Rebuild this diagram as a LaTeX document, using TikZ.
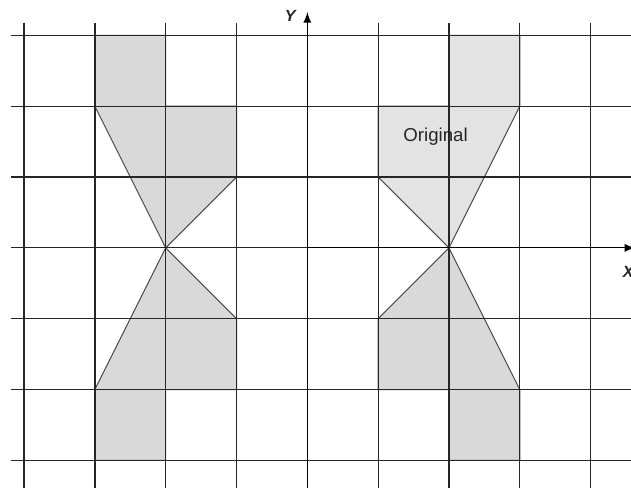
\documentclass[tikz,border=0pt]{standalone}
\usepackage{fontspec}
\setmainfont{Liberation Sans}
\usetikzlibrary{arrows, positioning}

\begin{document}
\begin{tikzpicture}
\tikzstyle{gridline} = [line width=0.5pt, draw=black!85]
\tikzstyle{original} = [fill=black!11, draw=black!70, line width=0.4pt]
\tikzstyle{reflected} = [fill=black!15, draw=black!70, line width=0.4pt]
\tikzstyle{axis} = [line width=0.5pt, draw=black, ->, >=latex]
\tikzstyle{axislabel} = [inner sep=0pt, font=\fontsize{6.5}{8}\selectfont\bfseries\itshape, text=black!85]

\useasboundingbox (-4.34,-3.39) rectangle (4.57,3.50);

% Figures
\filldraw[original] (2,3) -- (3,3) -- (3,2) -- (2,0) -- (1,1) -- (1,2) -- (2,2) -- cycle;
\filldraw[reflected] (2,-3) -- (3,-3) -- (3,-2) -- (2,0) -- (1,-1) -- (1,-2) -- (2,-2) -- cycle;
\filldraw[reflected] (-2,3) -- (-3,3) -- (-3,2) -- (-2,0) -- (-1,1) -- (-1,2) -- (-2,2) -- cycle;
\filldraw[reflected] (-2,-3) -- (-3,-3) -- (-3,-2) -- (-2,0) -- (-1,-1) -- (-1,-2) -- (-2,-2) -- cycle;

% Grid
\foreach \y in {-3,...,3}
  \draw[gridline] (-4.18,\y) -- (4.6,\y);
\foreach \x in {-4,...,4}
  \draw[gridline] (\x,3.18) -- (\x,-3.5);

% Axes
\coordinate (ybot) at (0,-3.5);
\coordinate (ytop) at (0,3.33);
\coordinate (origin) at (0,0);
\coordinate (xend) at (4.63,0);
\draw[axis] (ybot) -- (ytop);
\draw[axis] (origin) -- (xend);
\node (ylabel) [axislabel] at (-0.24,3.27) {Y};
\node (xlabel) [axislabel] at (4.53,-0.34) {X};

% Label
\node (orig) [font=\fontsize{7.5}{9}\selectfont, text=black!85] at (1.81,1.57) {Original};

\end{tikzpicture}
\end{document}
